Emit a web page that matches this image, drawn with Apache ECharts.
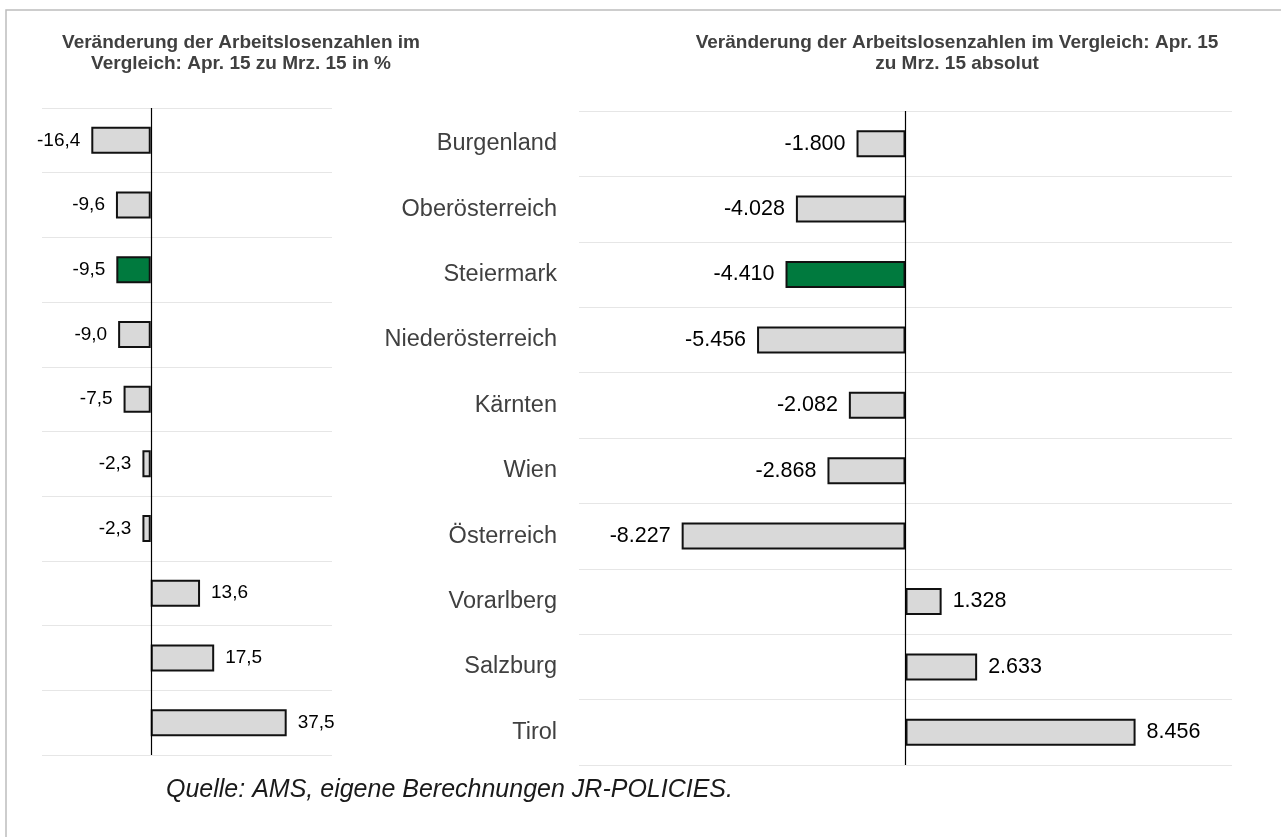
<!DOCTYPE html>
<html>
<head>
<meta charset="utf-8">
<script src="https://cdn.jsdelivr.net/npm/echarts@6/dist/echarts.min.js"></script>
<style>
  html, body { margin: 0; padding: 0; background: #fff; }
  #chart { width: 1281px; height: 837px; }
</style>
</head>
<body>
<div id="chart"></div>
<script>
// Bundesländer, top to bottom
var regions = ['Burgenland', 'Oberösterreich', 'Steiermark', 'Niederösterreich', 'Kärnten', 'Wien', 'Österreich', 'Vorarlberg', 'Salzburg', 'Tirol']
// change in % (Apr. 15 vs Mrz. 15), same rows as regions
var changePct = [-16.4, -9.6, -9.5, -9.0, -7.5, -2.3, -2.3, 13.6, 17.5, 37.5]
// absolute change
var changeAbs = [-1800, -4028, -4410, -5456, -2082, -2868, -8227, 1328, 2633, 8456]
var highlight = 'Steiermark'

var titleLeft = 'Veränderung der Arbeitslosenzahlen im\nVergleich: Apr. 15 zu Mrz. 15 in %'
var titleRight = 'Veränderung der Arbeitslosenzahlen im Vergleich: Apr. 15\nzu Mrz. 15 absolut'
var sourceNote = 'Quelle: AMS, eigene Berechnungen JR-POLICIES.'

var FONT = '"Liberation Sans", Arial, sans-serif'

function fmtPct (v) {
    return v.toFixed(1).replace('.', ',')
}
function fmtAbs (v) {
    var s = Math.abs(v).toString().replace(/\B(?=(\d{3})+(?!\d))/g, '.')
    return (v < 0 ? '-' : '') + s
}

function barData (values, fmt, size) {
    return values.map(function (v, i) {
        return {
            value: v,
            itemStyle: { color: regions[i] === highlight ? '#007a3e' : '#d9d9d9' },
            label: {
                show: true,
                position: v < 0 ? 'left' : 'right',
                distance: 11,
                formatter: fmt(v),
                color: '#000',
                fontSize: size,
                fontFamily: FONT
            }
        }
    })
}

var zeroLine = {
    silent: true,
    symbol: ['none', 'none'],
    label: { show: false },
    lineStyle: { color: '#000', width: 1.2, type: 'solid' },
    data: [{ xAxis: 0 }]
}

var dom = echarts.init(document.getElementById('chart'))
var option = {
    animation: false,
    backgroundColor: '#fff',
    textStyle: { fontFamily: FONT },
    graphic: [
        {
            type: 'rect',
            shape: { x: 6, y: 10, width: 1400, height: 1000 },
            style: { fill: 'none', stroke: '#bdbdbd', lineWidth: 1.5 },
            silent: true
        },
        {
            type: 'text',
            x: 241, y: 32,
            style: { text: titleLeft, textAlign: 'center', font: 'bold 19px ' + FONT, fill: '#404040', lineHeight: 21 }
        },
        {
            type: 'text',
            x: 957, y: 32,
            style: { text: titleRight, textAlign: 'center', font: 'bold 19px ' + FONT, fill: '#404040', lineHeight: 21 }
        },
        {
            type: 'text',
            x: 166, y: 778,
            style: { text: sourceNote, font: 'italic 25px ' + FONT, fill: '#1a1a1a' }
        }
    ],
    grid: [
        { left: 42, top: 108, width: 290, height: 647 },
        { left: 579, top: 111, width: 653, height: 654 }
    ],
    xAxis: [
        { gridIndex: 0, type: 'value', min: -30, max: 50, show: false },
        { gridIndex: 1, type: 'value', min: -12000, max: 12000, show: false }
    ],
    yAxis: [
        {
            gridIndex: 0, type: 'category', data: regions, inverse: true,
            axisLine: { show: false }, axisTick: { show: false }, axisLabel: { show: false },
            splitLine: { show: true, lineStyle: { color: '#e6e6e6', width: 1 } }
        },
        {
            gridIndex: 1, type: 'category', data: regions, inverse: true,
            axisLine: { show: false }, axisTick: { show: false },
            axisLabel: { color: '#404040', fontSize: 23.5, fontFamily: FONT, margin: 22 },
            splitLine: { show: true, lineStyle: { color: '#e6e6e6', width: 1 } }
        }
    ],
    series: [
        {
            type: 'bar', xAxisIndex: 0, yAxisIndex: 0,
            barWidth: 27,
            itemStyle: { borderColor: '#111', borderWidth: 2 },
            data: barData(changePct, fmtPct, 19),
            markLine: zeroLine
        },
        {
            type: 'bar', xAxisIndex: 1, yAxisIndex: 1,
            barWidth: 27,
            itemStyle: { borderColor: '#111', borderWidth: 2 },
            data: barData(changeAbs, fmtAbs, 21.5),
            markLine: zeroLine
        }
    ]
}
dom.setOption(option)
window.addEventListener('resize', function () { dom.resize() })
</script>
</body>
</html>
